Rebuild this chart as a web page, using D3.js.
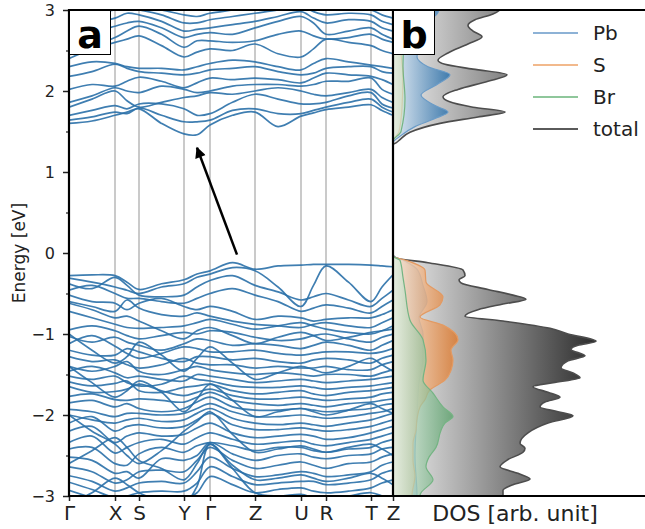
<!DOCTYPE html>
<html>
<head>
<meta charset="utf-8">
<script src="https://cdn.jsdelivr.net/npm/d3@7"></script>
<style>
  body { margin: 0; background: #fff; }
  svg { display: block; font-family: "DejaVu Sans", sans-serif; }
</style>
</head>
<body>
<svg id="chart" width="645" height="529"></svg>
<script>
// ---- k-path (cumulative path length) and high-symmetry labels ----
const kTicks = [0, 46, 70, 115, 141, 186, 232, 257, 302, 324];
const kLabels = ["Γ", "X", "S", "Y", "Γ", "Z", "U", "R", "T", "Z"];

// Band energies (eV) sampled at every high-symmetry point and segment midpoint:
// Γ, ·, X, ·, S, ·, Y, ·, Γ, ·, Z, ·, U, ·, R, ·, T, ·, Z
const conductionBands = [
  [1.60, 1.63, 1.70, 1.74, 1.78, 1.60, 1.47, 1.46, 1.58, 1.70, 1.74, 1.56, 1.69, 1.73, 1.77, 1.80, 1.83, 1.76, 1.70],
  [1.64, 1.68, 1.74, 1.72, 1.79, 1.70, 1.62, 1.62, 1.64, 1.76, 1.78, 1.72, 1.72, 1.76, 1.80, 1.86, 1.90, 1.80, 1.74],
  [1.70, 1.76, 1.82, 1.78, 1.84, 1.84, 1.78, 1.70, 1.72, 1.86, 1.96, 1.90, 1.84, 1.84, 1.86, 1.94, 1.98, 1.84, 1.79],
  [1.80, 1.90, 2.00, 1.88, 1.80, 1.86, 1.92, 1.94, 1.98, 1.96, 2.00, 2.04, 2.00, 1.96, 1.94, 1.98, 2.02, 1.92, 1.86],
  [1.86, 1.94, 2.04, 2.00, 1.98, 2.06, 2.02, 1.98, 2.00, 2.06, 2.08, 2.08, 2.06, 2.08, 2.12, 2.12, 2.16, 2.02, 1.96],
  [2.02, 2.08, 2.06, 2.12, 2.17, 2.12, 2.04, 2.10, 2.16, 2.14, 2.16, 2.14, 2.10, 2.16, 2.22, 2.20, 2.18, 2.14, 2.08],
  [2.18, 2.24, 2.33, 2.28, 2.24, 2.22, 2.20, 2.22, 2.26, 2.28, 2.30, 2.24, 2.20, 2.22, 2.28, 2.30, 2.30, 2.24, 2.22],
  [2.30, 2.36, 2.34, 2.30, 2.28, 2.28, 2.26, 2.30, 2.34, 2.38, 2.36, 2.30, 2.26, 2.34, 2.40, 2.36, 2.32, 2.30, 2.28],
  [2.40, 2.52, 2.60, 2.64, 2.68, 2.56, 2.42, 2.48, 2.52, 2.50, 2.58, 2.46, 2.42, 2.52, 2.64, 2.60, 2.56, 2.50, 2.46],
  [2.52, 2.56, 2.66, 2.74, 2.80, 2.70, 2.54, 2.62, 2.62, 2.60, 2.62, 2.70, 2.74, 2.68, 2.64, 2.66, 2.70, 2.64, 2.60],
  [2.62, 2.72, 2.80, 2.84, 2.86, 2.78, 2.66, 2.70, 2.72, 2.70, 2.78, 2.86, 2.92, 2.84, 2.70, 2.74, 2.78, 2.70, 2.64],
  [2.80, 2.84, 2.90, 2.96, 2.94, 2.86, 2.74, 2.76, 2.78, 2.82, 2.86, 2.92, 2.98, 2.90, 2.84, 2.88, 2.86, 2.78, 2.74],
  [2.92, 2.96, 3.00, 3.02, 3.00, 2.94, 2.84, 2.84, 2.88, 2.92, 2.96, 3.00, 3.05, 2.98, 2.94, 2.96, 2.94, 2.86, 2.82],
  [3.04, 3.05, 3.06, 3.06, 3.04, 3.00, 2.94, 2.92, 2.96, 3.00, 3.04, 3.06, 3.08, 3.06, 3.02, 3.02, 3.00, 2.94, 2.90]
];

const valenceBands = [
  [-0.28, -0.27, -0.28, -0.36, -0.45, -0.38, -0.33, -0.26, -0.22, -0.12, -0.20, -0.16, -0.15, -0.14, -0.14, -0.14, -0.15, -0.16, -0.17],
  [-0.31, -0.36, -0.42, -0.46, -0.50, -0.42, -0.38, -0.30, -0.26, -0.18, -0.22, -0.42, -0.66, -0.40, -0.16, -0.36, -0.60, -0.42, -0.27],
  [-0.38, -0.44, -0.30, -0.40, -0.52, -0.54, -0.52, -0.42, -0.34, -0.28, -0.40, -0.48, -0.58, -0.54, -0.50, -0.58, -0.66, -0.56, -0.46],
  [-0.46, -0.40, -0.50, -0.56, -0.56, -0.60, -0.62, -0.56, -0.50, -0.44, -0.52, -0.60, -0.72, -0.68, -0.64, -0.68, -0.74, -0.66, -0.58],
  [-0.52, -0.60, -0.62, -0.70, -0.62, -0.56, -0.66, -0.70, -0.66, -0.72, -0.82, -0.78, -0.80, -0.84, -0.82, -0.80, -0.80, -0.76, -0.70],
  [-0.60, -0.66, -0.72, -0.58, -0.68, -0.76, -0.78, -0.74, -0.78, -0.84, -0.88, -0.90, -0.92, -0.88, -0.86, -0.90, -0.92, -0.86, -0.80],
  [-0.62, -0.70, -0.80, -0.78, -0.84, -0.96, -1.06, -0.96, -0.92, -1.02, -1.12, -1.04, -0.98, -1.02, -1.08, -1.04, -0.98, -0.96, -0.94],
  [-0.72, -0.80, -0.88, -0.92, -0.93, -0.92, -0.90, -0.86, -0.82, -0.88, -0.94, -0.90, -0.86, -0.90, -0.94, -0.98, -1.00, -0.96, -0.90],
  [-0.95, -0.90, -0.96, -1.02, -1.06, -1.02, -0.98, -1.00, -0.96, -0.98, -1.04, -1.08, -1.06, -1.02, -1.00, -1.06, -1.10, -1.04, -1.00],
  [-1.00, -1.20, -1.36, -1.28, -1.10, -1.26, -1.46, -1.30, -1.16, -1.36, -1.56, -1.48, -1.40, -1.44, -1.48, -1.40, -1.30, -1.38, -1.46],
  [-1.03, -1.10, -1.04, -1.10, -1.14, -1.20, -1.12, -1.06, -1.08, -1.14, -1.12, -1.14, -1.18, -1.14, -1.10, -1.14, -1.20, -1.14, -1.08],
  [-1.12, -1.02, -1.15, -1.24, -1.30, -1.24, -1.16, -1.18, -1.22, -1.22, -1.20, -1.24, -1.26, -1.24, -1.22, -1.22, -1.24, -1.22, -1.18],
  [-1.20, -1.26, -1.26, -1.18, -1.22, -1.30, -1.34, -1.28, -1.28, -1.32, -1.30, -1.34, -1.36, -1.32, -1.30, -1.32, -1.36, -1.30, -1.26],
  [-1.28, -1.34, -1.32, -1.38, -1.42, -1.38, -1.30, -1.36, -1.38, -1.38, -1.42, -1.40, -1.42, -1.42, -1.40, -1.44, -1.44, -1.38, -1.34],
  [-1.40, -1.46, -1.40, -1.34, -1.46, -1.50, -1.44, -1.40, -1.44, -1.48, -1.50, -1.48, -1.50, -1.52, -1.50, -1.50, -1.52, -1.48, -1.44],
  [-1.40, -1.60, -1.78, -1.70, -1.58, -1.72, -1.96, -1.80, -1.62, -1.82, -2.02, -1.96, -1.92, -1.96, -2.00, -1.94, -1.86, -1.92, -1.98],
  [-1.46, -1.40, -1.48, -1.54, -1.52, -1.56, -1.58, -1.50, -1.52, -1.56, -1.60, -1.58, -1.56, -1.58, -1.60, -1.58, -1.56, -1.54, -1.52],
  [-1.52, -1.56, -1.52, -1.60, -1.64, -1.62, -1.52, -1.56, -1.58, -1.64, -1.66, -1.66, -1.64, -1.66, -1.68, -1.66, -1.64, -1.62, -1.60],
  [-1.59, -1.64, -1.61, -1.58, -1.70, -1.72, -1.66, -1.64, -1.62, -1.70, -1.74, -1.72, -1.70, -1.74, -1.76, -1.72, -1.70, -1.68, -1.66],
  [-1.65, -1.72, -1.71, -1.68, -1.62, -1.70, -1.76, -1.72, -1.68, -1.76, -1.80, -1.80, -1.78, -1.80, -1.82, -1.80, -1.78, -1.74, -1.72],
  [-1.77, -1.74, -1.81, -1.82, -1.80, -1.82, -1.84, -1.78, -1.72, -1.82, -1.86, -1.88, -1.86, -1.88, -1.90, -1.86, -1.84, -1.82, -1.80],
  [-1.85, -1.82, -1.90, -1.86, -1.92, -1.96, -1.92, -1.84, -1.78, -1.90, -1.94, -1.94, -1.92, -1.94, -1.96, -1.94, -1.92, -1.88, -1.86],
  [-1.93, -1.96, -2.02, -1.98, -1.98, -2.00, -1.98, -1.92, -1.86, -1.96, -2.02, -2.02, -2.00, -2.02, -2.04, -2.02, -1.98, -1.96, -1.92],
  [-2.00, -2.06, -2.10, -2.06, -2.04, -2.08, -2.06, -1.98, -1.92, -2.04, -2.10, -2.12, -2.10, -2.12, -2.14, -2.10, -2.06, -2.02, -1.98],
  [-2.00, -2.20, -2.36, -2.50, -2.60, -2.44, -2.20, -2.08, -1.96, -2.24, -2.46, -2.42, -2.38, -2.42, -2.46, -2.40, -2.36, -2.42, -2.50],
  [-2.10, -2.02, -2.20, -2.14, -2.12, -2.16, -2.14, -2.06, -1.98, -2.12, -2.18, -2.18, -2.16, -2.18, -2.20, -2.18, -2.14, -2.10, -2.06],
  [-2.20, -2.14, -2.34, -2.26, -2.22, -2.26, -2.24, -2.16, -2.10, -2.22, -2.28, -2.26, -2.24, -2.26, -2.30, -2.28, -2.22, -2.18, -2.14],
  [-2.34, -2.26, -2.47, -2.40, -2.34, -2.30, -2.36, -2.28, -2.22, -2.30, -2.36, -2.34, -2.32, -2.36, -2.38, -2.34, -2.30, -2.26, -2.22],
  [-2.42, -2.40, -2.60, -2.62, -2.48, -2.40, -2.46, -2.38, -2.34, -2.38, -2.44, -2.40, -2.40, -2.44, -2.46, -2.42, -2.40, -2.34, -2.30],
  [-2.52, -2.56, -2.72, -2.70, -2.78, -2.54, -2.56, -2.50, -2.34, -2.48, -2.56, -2.50, -2.48, -2.52, -2.54, -2.50, -2.48, -2.42, -2.40],
  [-2.60, -2.44, -2.28, -2.40, -2.56, -2.66, -2.80, -2.60, -2.36, -2.62, -2.80, -2.78, -2.74, -2.78, -2.82, -2.78, -2.72, -2.78, -2.86],
  [-2.64, -2.70, -2.84, -2.80, -2.70, -2.68, -2.70, -2.56, -2.40, -2.56, -2.66, -2.62, -2.58, -2.62, -2.66, -2.60, -2.58, -2.52, -2.48],
  [-2.75, -2.82, -2.94, -2.90, -2.84, -2.82, -2.84, -2.70, -2.52, -2.66, -2.76, -2.74, -2.70, -2.72, -2.76, -2.74, -2.70, -2.62, -2.58],
  [-2.83, -2.92, -3.02, -3.00, -2.96, -2.94, -2.94, -2.84, -2.64, -2.76, -2.86, -2.84, -2.82, -2.82, -2.86, -2.84, -2.80, -2.72, -2.68],
  [-2.93, -3.02, -3.10, -3.08, -3.06, -3.04, -3.04, -2.96, -2.76, -2.86, -2.96, -2.92, -2.90, -2.94, -2.96, -2.94, -2.90, -2.84, -2.80],
  [-3.10, -2.96, -2.78, -2.86, -2.96, -3.06, -3.10, -2.88, -2.36, -2.66, -2.96, -3.00, -2.98, -3.02, -3.04, -3.00, -2.96, -3.00, -3.06]
];

// Arrow from the valence-band maximum towards the conduction-band minimum
const arrowFrom = { k: 168, e: -0.02 };
const arrowTo = { k: 128, e: 1.30 };

// ---- projected density of states (arb. units) ----
const totalEnergy = [3.05, 3.00, 2.95, 2.88, 2.81, 2.74, 2.67, 2.58, 2.47, 2.38, 2.33, 2.27, 2.20, 2.12, 2.02, 1.93, 1.87, 1.80, 1.74, 1.68, 1.60, 1.49, 1.40, 1.36, 1.34,
  -0.02, -0.06, -0.12, -0.21, -0.28, -0.33, -0.37, -0.45, -0.52, -0.57, -0.63, -0.70, -0.78, -0.84, -0.93, -1.00, -1.09, -1.14, -1.19, -1.27,
  -1.33, -1.42, -1.48, -1.54, -1.60, -1.65, -1.72, -1.78, -1.84, -1.90, -1.96, -2.01, -2.10, -2.22, -2.35, -2.41, -2.46, -2.55, -2.64, -2.72,
  -2.79, -2.86, -2.93, -3.00, -3.05];
const totalDos = [11.0, 10.7, 10.0, 8.2, 7.5, 8.0, 8.9, 7.5, 5.5, 4.5, 5.2, 8.0, 11.4, 9.5, 6.5, 5.0, 5.6, 8.0, 11.2, 8.5, 4.7, 1.7, 0.7, 0.3, 0,
  0, 0.3, 3.5, 7.0, 7.2, 6.6, 6.8, 9.5, 12.0, 13.3, 11.0, 8.5, 7.2, 11.0, 15.7, 17.5, 20.3, 18.5, 17.8, 19.2,
  17.5, 16.8, 18.0, 18.7, 16.0, 14.0, 15.5, 16.7, 15.2, 14.7, 16.5, 18.0, 15.5, 13.5, 12.7, 13.2, 13.0, 11.5, 10.7, 12.5,
  13.7, 12.0, 11.0, 11.0, 11.0];

const pbEnergy = [3.05, 2.97, 2.85, 2.71, 2.55, 2.42, 2.30, 2.20, 2.08, 1.95, 1.82, 1.74, 1.66, 1.56, 1.45, 1.36,
  -0.03, -0.10, -0.20, -0.40, -0.60, -0.80, -1.00, -1.30, -1.60, -2.00, -2.50, -3.00, -3.05];
const pbDos = [4.6, 4.5, 3.5, 3.0, 2.6, 2.4, 3.5, 5.7, 4.4, 2.8, 4.2, 5.5, 4.2, 2.2, 0.8, 0,
  0, 1.2, 2.4, 3.0, 3.4, 2.6, 3.0, 3.0, 2.6, 2.4, 2.2, 2.4, 2.4];

const sEnergy = [3.05, 2.50, 2.20, 1.80, 1.50, 1.38,
  -0.04, -0.09, -0.21, -0.36, -0.54, -0.64, -0.79, -0.89, -1.07, -1.20, -1.32, -1.45, -1.57, -1.69, -1.81, -1.90, -2.05, -2.19, -2.35, -2.56, -2.75, -3.00, -3.05];
const sDos = [0.9, 0.8, 1.0, 0.9, 0.6, 0,
  0, 1.3, 3.2, 3.3, 5.0, 4.7, 2.7, 5.0, 6.5, 5.8, 6.0, 5.8, 5.2, 3.7, 3.2, 2.7, 2.4, 2.3, 2.0, 2.0, 2.2, 1.9, 1.9];

const brEnergy = [3.05, 2.70, 2.30, 1.90, 1.50, 1.38,
  -0.04, -0.09, -0.30, -0.46, -0.83, -1.07, -1.32, -1.57, -1.73, -1.90, -2.02, -2.10, -2.19, -2.40, -2.52, -2.64, -2.80, -2.96, -3.05];
const brDos = [1.0, 1.1, 1.0, 1.2, 0.8, 0,
  0, 0.7, 1.0, 1.2, 1.7, 3.0, 3.3, 3.0, 4.0, 5.0, 6.0, 5.2, 4.8, 4.3, 3.6, 3.3, 4.0, 2.8, 2.6];

const energyTicks = [-3, -2, -1, 0, 1, 2, 3];
const energyMinorTicks = [-2.5, -1.5, -0.5, 0.5, 1.5, 2.5];

// ---- layout ----
const svg = d3.select("#chart");
const padL = 69, splitX = 393, padR = 645, padT = 10, padB = 496;

const x = d3.scaleLinear().domain([0, 324]).range([padL, splitX]);
const y = d3.scaleLinear().domain([-3, 3]).range([padB, padT]);
const xd = d3.scaleLinear().domain([0, 25.2]).range([splitX, padR]);

// sample positions: each high-symmetry point plus the midpoint of each segment
const kSamples = [];
kTicks.forEach((k, i) => {
  kSamples.push(k);
  if (i < kTicks.length - 1) kSamples.push((k + kTicks[i + 1]) / 2);
});

const defs = svg.append("defs");
defs.append("clipPath").attr("id", "clipBands")
  .append("rect").attr("x", padL).attr("y", padT).attr("width", splitX - padL).attr("height", padB - padT);
defs.append("clipPath").attr("id", "clipDos")
  .append("rect").attr("x", splitX).attr("y", padT).attr("width", padR - splitX).attr("height", padB - padT);

// ---- panel a: band structure ----
const gA = svg.append("g");
gA.selectAll("line.kgrid")
  .data(kTicks.slice(1, -1))
  .join("line")
  .attr("x1", d => x(d)).attr("x2", d => x(d))
  .attr("y1", padT).attr("y2", padB)
  .attr("stroke", "#b8b8b8").attr("stroke-width", 1.5);

const bandLine = d3.line()
  .x((d, i) => x(kSamples[i]))
  .y(d => y(d))
  .curve(d3.curveCatmullRom.alpha(0.5));

gA.append("g").attr("clip-path", "url(#clipBands)")
  .selectAll("path")
  .data(conductionBands.concat(valenceBands))
  .join("path")
  .attr("d", bandLine)
  .attr("fill", "none")
  .attr("stroke", "#2a70a8")
  .attr("stroke-opacity", 0.9)
  .attr("stroke-width", 1.7);

// arrow
defs.append("marker").attr("id", "arrowHead")
  .attr("viewBox", "0 0 10 10").attr("refX", 9).attr("refY", 5)
  .attr("markerUnits", "userSpaceOnUse")
  .attr("markerWidth", 12).attr("markerHeight", 11).attr("orient", "auto")
  .append("path").attr("d", "M0,0 L10,5 L0,10 Z").attr("fill", "#000");
gA.append("line")
  .attr("x1", x(arrowFrom.k)).attr("y1", y(arrowFrom.e))
  .attr("x2", x(arrowTo.k)).attr("y2", y(arrowTo.e))
  .attr("stroke", "#000").attr("stroke-width", 2.5)
  .attr("marker-end", "url(#arrowHead)");

// ---- panel b: DOS ----
const gB = svg.append("g").attr("clip-path", "url(#clipDos)");

function gradient(id, dos, c0, c1) {
  const g = defs.append("linearGradient").attr("id", id)
    .attr("gradientUnits", "userSpaceOnUse")
    .attr("x1", xd(0)).attr("x2", xd(d3.max(dos))).attr("y1", 0).attr("y2", 0);
  g.append("stop").attr("offset", 0).attr("stop-color", c0);
  g.append("stop").attr("offset", 1).attr("stop-color", c1);
}
gradient("gTotal", totalDos, "#efefef", "#2c2c2c");
gradient("gPb", pbDos, "#dfeaf4", "#2c71ab");
gradient("gS", sDos, "#fce6d3", "#de782a");
gradient("gBr", brDos, "#dff0e3", "#52a064");

const dosArea = d3.area()
  .y(d => y(d.e)).x0(xd(0)).x1(d => xd(d.v))
  .curve(d3.curveMonotoneY);

const dosSeries = [
  { energy: totalEnergy, dos: totalDos, fill: "url(#gTotal)", op: 1, stroke: "#4d4d4d", sw: 1.6 },
  { energy: pbEnergy, dos: pbDos, fill: "url(#gPb)", op: 0.85, stroke: "#6a9bc7", sw: 1.2 },
  { energy: sEnergy, dos: sDos, fill: "url(#gS)", op: 0.8, stroke: "#e39a62", sw: 1.2 },
  { energy: brEnergy, dos: brDos, fill: "url(#gBr)", op: 0.7, stroke: "#74b483", sw: 1.2 }
];
dosSeries.forEach(s => {
  const pts = s.energy.map((e, i) => ({ e: e, v: s.dos[i] }));
  gB.append("path").attr("d", dosArea(pts))
    .attr("fill", s.fill).attr("fill-opacity", s.op).attr("stroke", "none");
  gB.append("path").attr("d", dosArea.lineX1()(pts))
    .attr("fill", "none").attr("stroke", s.stroke).attr("stroke-width", s.sw);
});

// ---- axes ----
const yAxis = svg.append("g").attr("transform", `translate(${padL},0)`)
  .call(d3.axisLeft(y).tickValues(energyTicks).tickFormat(d3.format("d")).tickSize(6).tickPadding(8));
yAxis.select(".domain").remove();
yAxis.selectAll("text").attr("font-size", 16).attr("fill", "#222").attr("font-family", "DejaVu Sans");
yAxis.selectAll("line").attr("stroke", "#222").attr("stroke-width", 1.5);

const yMinor = svg.append("g").attr("transform", `translate(${padL},0)`)
  .call(d3.axisLeft(y).tickValues(energyMinorTicks).tickSize(3).tickFormat(""));
yMinor.select(".domain").remove();
yMinor.selectAll("line").attr("stroke", "#222").attr("stroke-width", 1.2);

const xAxis = svg.append("g").attr("transform", `translate(0,${padB})`)
  .call(d3.axisBottom(x).tickValues(kTicks).tickFormat((d, i) => kLabels[i]).tickSize(5).tickPadding(5));
xAxis.select(".domain").remove();
xAxis.selectAll("text").attr("font-size", 20).attr("fill", "#222").attr("font-family", "DejaVu Sans");
xAxis.selectAll("line").attr("stroke", "#222").attr("stroke-width", 1.5);

// frame
const frame = svg.append("g").attr("stroke", "#000").attr("stroke-width", 2.2).attr("fill", "none");
frame.append("line").attr("x1", padL).attr("x2", padL).attr("y1", padT - 1).attr("y2", padB + 1);
frame.append("line").attr("x1", splitX).attr("x2", splitX).attr("y1", padT - 1).attr("y2", padB + 1);
frame.append("line").attr("x1", padL).attr("x2", padR).attr("y1", padT).attr("y2", padT);
frame.append("line").attr("x1", padL).attr("x2", padR).attr("y1", padB).attr("y2", padB);

// axis titles
svg.append("text")
  .attr("transform", `translate(19,${(padT + padB) / 2}) rotate(-90)`)
  .attr("text-anchor", "middle").attr("dominant-baseline", "central")
  .attr("font-size", 17).attr("fill", "#222")
  .text("Energy [eV]");
svg.append("text")
  .attr("x", (xd(0) + xd(25.2)) / 2 - 4).attr("y", 521)
  .attr("text-anchor", "middle")
  .attr("font-size", 22).attr("fill", "#222")
  .text("DOS [arb. unit]");

// panel letters
function panelLabel(x0, letter) {
  svg.append("rect").attr("x", x0 + 0.5).attr("y", padT + 0.5).attr("width", 41).attr("height", 44)
    .attr("fill", "#fff").attr("stroke", "#000").attr("stroke-width", 1);
  svg.append("text").attr("x", x0 + 21).attr("y", padT + 38)
    .attr("text-anchor", "middle").attr("font-size", 38).attr("font-weight", "bold").attr("fill", "#000")
    .text(letter);
}
panelLabel(padL, "a");
panelLabel(splitX, "b");

// legend
const legendItems = [
  { name: "Pb", color: "#8db2d6" },
  { name: "S", color: "#f2b98c" },
  { name: "Br", color: "#8fc79b" },
  { name: "total", color: "#5a5a5a" }
];
const lg = svg.append("g");
legendItems.forEach((d, i) => {
  const ly = 33 + i * 32;
  lg.append("line").attr("x1", 533).attr("x2", 578).attr("y1", ly).attr("y2", ly)
    .attr("stroke", d.color).attr("stroke-width", 2.2);
  lg.append("text").attr("x", 593).attr("y", ly).attr("dominant-baseline", "central")
    .attr("font-size", 20).attr("fill", "#222").text(d.name);
});
</script>
</body>
</html>
